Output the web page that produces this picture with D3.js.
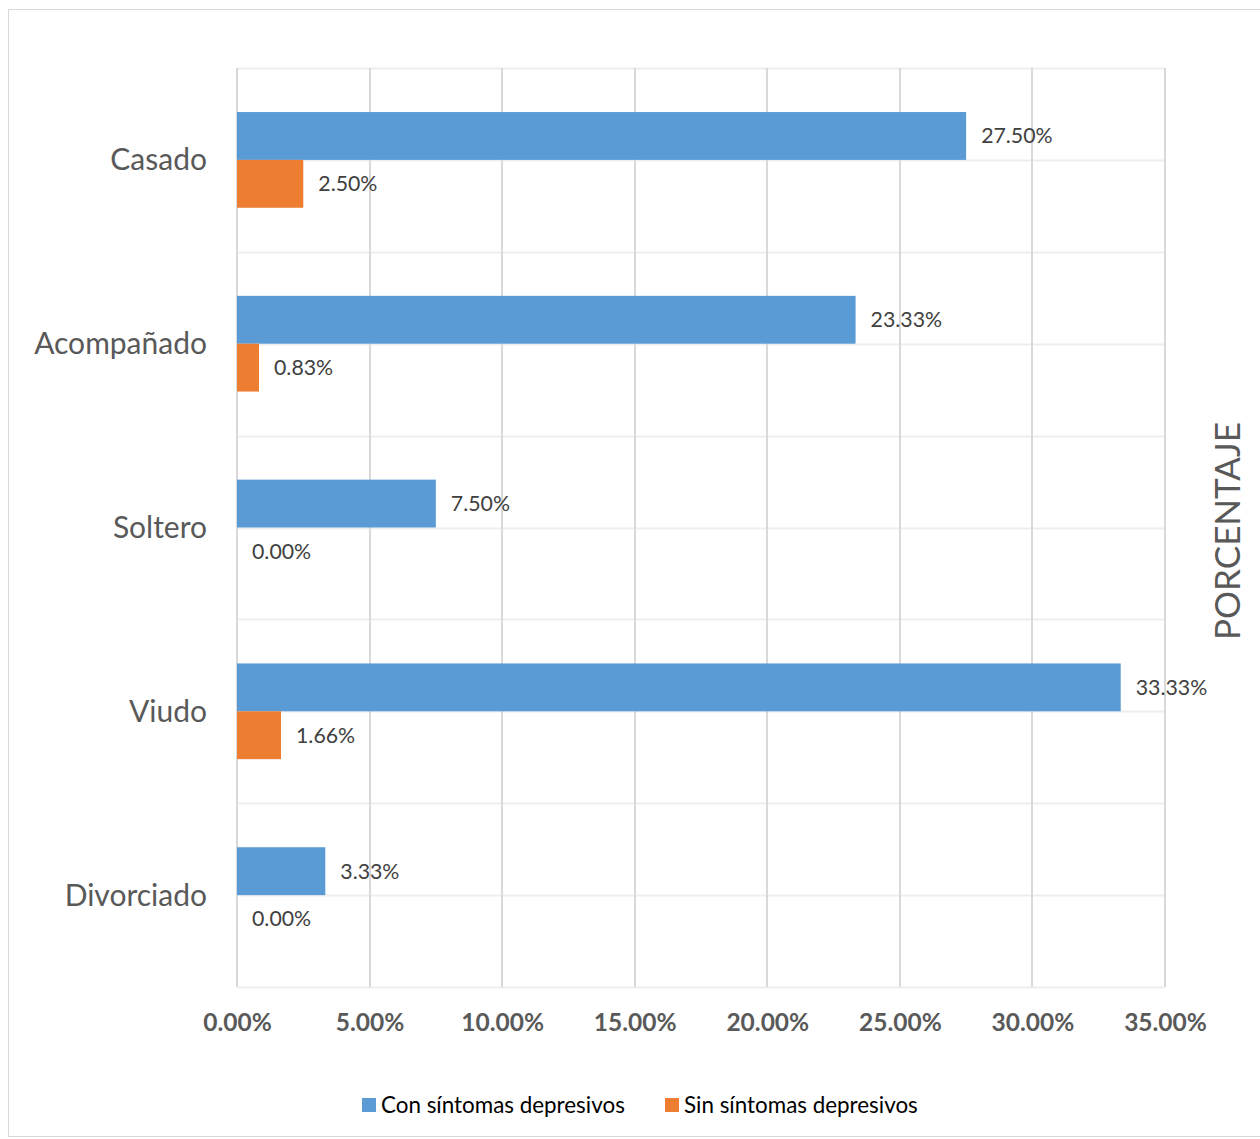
<!DOCTYPE html>
<html><head><meta charset="utf-8">
<script src="https://cdn.jsdelivr.net/npm/d3@7"></script>
<style>body{margin:0;background:#fff}svg{display:block}</style>
</head><body>
<script>
const categories = ["Casado","Acompañado","Soltero","Viudo","Divorciado"];
const conSintomas = [27.50, 23.33, 7.50, 33.33, 3.33];
const sinSintomas = [2.50, 0.83, 0.00, 1.66, 0.00];
const seriesNames = ["Con síntomas depresivos","Sin síntomas depresivos"];
const xTicks = [0,5,10,15,20,25,30,35];
const colors = ["#5b9bd5","#ed7d31"];
const font = "Lato, 'Open Sans', sans-serif";

const W=1260,H=1139;
const svg=d3.select("body").append("svg").attr("width",W).attr("height",H);
svg.append("rect").attr("x",8.5).attr("y",9.5).attr("width",1262).attr("height",1127)
  .attr("fill","#fff").attr("stroke","#d9d9d9");

const L=237,R=1165,T=68,B=987;
const x=d3.scaleLinear().domain([0,35]).range([L,R]);
const y=d3.scaleBand().domain(categories).range([T,B]);
const inner=d3.scaleBand().domain([0,1]).range([0,y.bandwidth()]).paddingOuter(0.92).paddingInner(0);

const g=svg.append("g");
const hl=[];
categories.forEach(c=>{hl.push(y(c)); hl.push(y(c)+y.bandwidth()/2);});
hl.push(B);
g.selectAll(".hg").data(hl).enter().append("line")
 .attr("x1",L).attr("x2",R).attr("y1",d=>Math.round(d)+0.5).attr("y2",d=>Math.round(d)+0.5)
 .attr("stroke","#eeeeee").attr("stroke-width",2);
g.selectAll(".vg").data(xTicks).enter().append("line")
 .attr("x1",d=>Math.round(x(d))).attr("x2",d=>Math.round(x(d)))
 .attr("y1",T).attr("y2",B).attr("stroke","#d9d9d9").attr("stroke-width",2);

const rows=categories.map((c,i)=>[conSintomas[i],sinSintomas[i]]);
categories.forEach((c,i)=>{
  rows[i].forEach((v,s)=>{
    const yy=y(c)+inner(s);
    g.append("rect").attr("x",x(0)).attr("y",yy).attr("width",x(v)-x(0)).attr("height",inner.bandwidth())
     .attr("fill",colors[s]);
    g.append("text").attr("x",x(v)+15).attr("y",yy+inner.bandwidth()/2).attr("dy","0.35em")
     .attr("font-family",font).attr("font-size",21.3).attr("fill","#404040")
     .text(v.toFixed(2)+"%");
  });
});

g.selectAll(".cl").data(categories).enter().append("text")
 .attr("x",207).attr("y",d=>y(d)+y.bandwidth()/2).attr("dy","0.35em").attr("text-anchor","end")
 .attr("font-family",font).attr("font-size",30).attr("fill","#595959").text(d=>d);

const xa=svg.append("g").attr("transform",`translate(0,${B})`)
 .call(d3.axisBottom(x).tickValues(xTicks).tickSize(0).tickFormat(d=>d.toFixed(2)+"%"));
xa.select(".domain").remove();
xa.selectAll("text").attr("dy",0).attr("y",44).attr("font-family",font).attr("font-size",24.5)
 .attr("font-weight","bold").attr("fill","#595959");

svg.append("text").attr("transform","translate(1240,531) rotate(-90)").attr("text-anchor","middle")
 .attr("font-family",font).attr("font-size",35).attr("fill","#595959").text("PORCENTAJE");

const leg=[{x:362},{x:665}];
seriesNames.forEach((n,i)=>{
  svg.append("rect").attr("x",leg[i].x).attr("y",1098).attr("width",14).attr("height",14).attr("fill",colors[i]);
  svg.append("text").attr("x",leg[i].x+19).attr("y",1105).attr("dy","0.35em")
   .attr("font-family",font).attr("font-size",22.4).attr("fill","#000").text(n);
});
</script>
</body></html>
